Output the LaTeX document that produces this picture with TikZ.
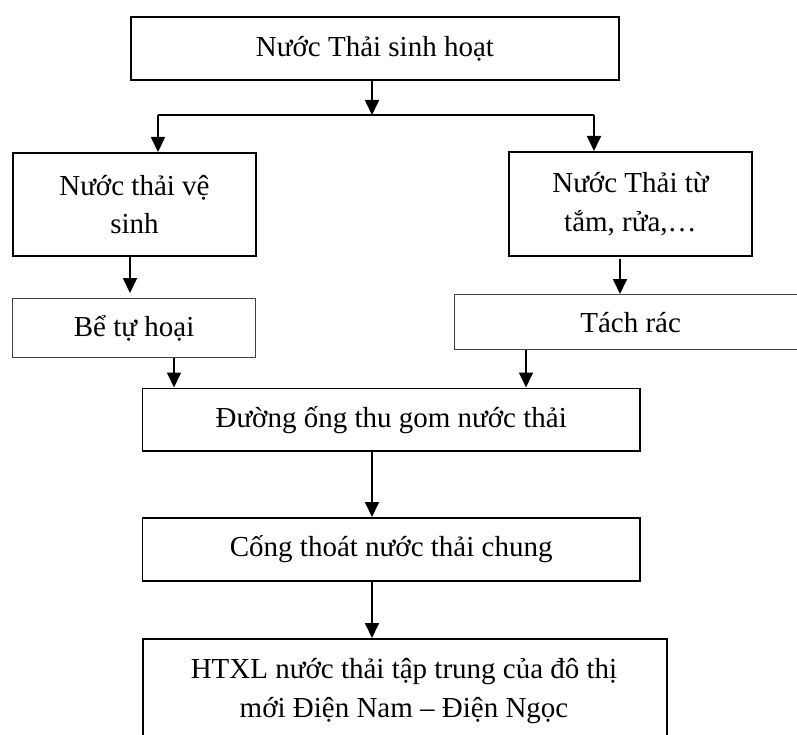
\documentclass[tikz,border=0pt]{standalone}
\usepackage{fontspec}
\setmainfont{Liberation Serif}
\usetikzlibrary{arrows.meta,positioning}
\tikzset{
  mainbox/.style={draw=black, line width=1.9pt, inner sep=0pt, anchor=north west, align=center, font=\fontsize{29}{38.5}\selectfont},
  thinbox/.style={draw=black!75, line width=1.2pt, inner sep=0pt, anchor=north west, align=center, font=\fontsize{29}{38.5}\selectfont},
  arr/.style={line width=1.7pt, -{Triangle[width=14pt,length=15pt]}},
  ln/.style={line width=1.7pt}
}
\begin{document}
\begin{tikzpicture}[x=1pt,y=-1pt]
\clip (0,0) rectangle (797,735);
\fill[white] (0,0) rectangle (797,735);
% boxes
\node[mainbox, minimum width=488pt, minimum height=63pt] (top) at (130,16) {Nước Thải sinh hoạt};
\node[mainbox, minimum width=243pt, minimum height=103pt] (vs) at (12,152) {Nước thải vệ\\sinh};
\node[mainbox, minimum width=243pt, minimum height=104pt] (tam) at (508,151) {Nước Thải từ\\tắm, rửa,…};
\node[thinbox, minimum width=243pt, minimum height=59pt] (be) at (12,298) {Bể tự hoại};
\node[thinbox, minimum width=352pt, minimum height=55pt] (rac) at (454,294) {Tách rác};
\node[mainbox, minimum width=497.5pt, minimum height=62.5pt] (ong) at (141.5,387.5) {Đường ống thu gom nước thải};
\node[mainbox, minimum width=497.5pt, minimum height=63pt] (cong) at (141.5,517) {Cống thoát nước thải chung};
\node[mainbox, minimum width=524pt, minimum height=135pt] (ht) at (142,638) {};
\node[font=\fontsize{29}{38.5}\selectfont, align=center, anchor=base] (httxt) at (404,717) {HTXL nước thải tập trung của đô thị\\mới Điện Nam – Điện Ngọc};
% junction coordinates
\coordinate (j) at (372,115);
\coordinate (jl) at (158,115);
\coordinate (jr) at (594,115);
\coordinate (a1) at (130,0);
\coordinate (a2) at (620,259);
\coordinate (a3) at (174,0);
\coordinate (a4) at (526,0);
\coordinate (a5) at (372,0);
% connectors
\draw[arr] (top.south -| j) -- (j);
\draw[ln] (jl) -- (jr);
\draw[arr] (jl) -- (vs.north -| jl);
\draw[arr] (jr) -- (tam.north -| jr);
\draw[arr] (vs.south -| a1) -- ([yshift=5pt]be.north -| a1);
\draw[arr] (a2) -- (rac.north -| a2);
\draw[arr] (be.south -| a3) -- (ong.north -| a3);
\draw[arr] (rac.south -| a4) -- (ong.north -| a4);
\draw[arr] (ong.south -| a5) -- (cong.north -| a5);
\draw[arr] (cong.south -| a5) -- (ht.north -| a5);
\end{tikzpicture}
\end{document}
